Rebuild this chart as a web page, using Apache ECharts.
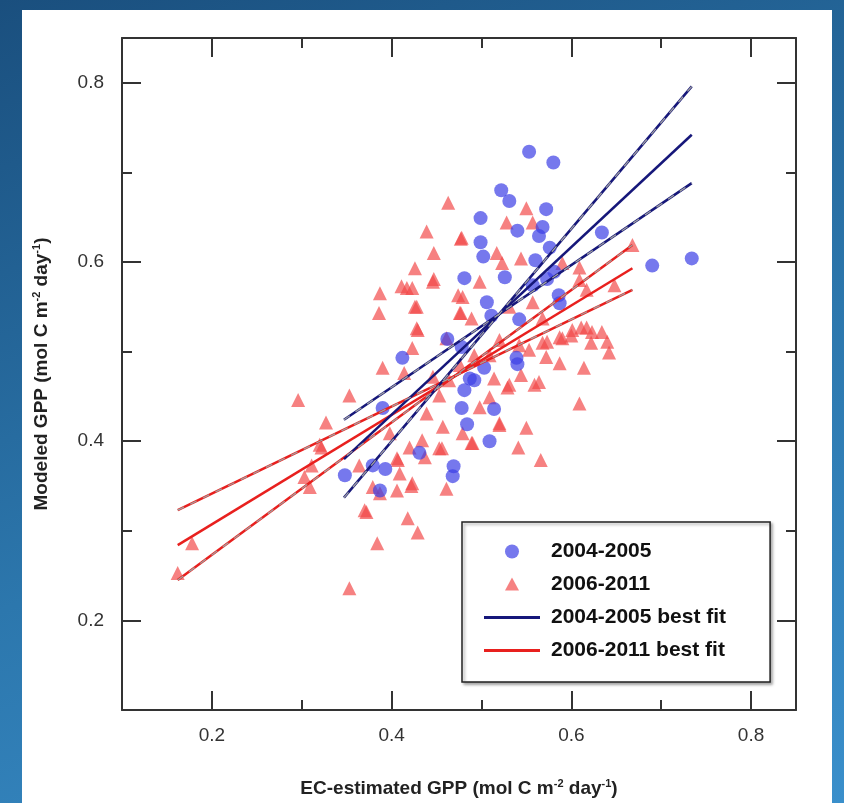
<!DOCTYPE html>
<html>
<head>
<meta charset="utf-8">
<script src="https://cdn.jsdelivr.net/npm/echarts@6/dist/echarts.min.js"></script>
<style>
  html, body { margin: 0; padding: 0; }
  body { width: 844px; height: 803px; background: linear-gradient(160deg, #1a4f7e 0%, #2c77ad 55%, #3a8fcb 100%); }
  #panel { position: absolute; left: 22px; top: 10px; width: 810px; height: 793px; background: #fff; }
  #chart { position: absolute; left: 0; top: 0; width: 844px; height: 803px; }
</style>
</head>
<body>
<div id="panel"></div>
<div id="chart"></div>
<script>
// 2004-2005 观测点 [EC, modeled]
const blue0405 = [
  [0.553,0.723],[0.580,0.711],[0.522,0.680],[0.531,0.668],[0.572,0.659],[0.499,0.649],
  [0.568,0.639],[0.540,0.635],[0.564,0.629],[0.634,0.633],[0.499,0.622],[0.576,0.616],
  [0.502,0.606],[0.560,0.602],[0.690,0.596],[0.734,0.604],[0.481,0.582],[0.526,0.583],
  [0.581,0.589],[0.573,0.581],[0.557,0.574],[0.506,0.555],[0.586,0.563],[0.587,0.554],
  [0.511,0.540],[0.542,0.536],[0.462,0.514],[0.478,0.505],[0.412,0.493],[0.539,0.493],
  [0.503,0.482],[0.487,0.470],[0.540,0.486],[0.492,0.468],[0.481,0.457],[0.390,0.437],
  [0.478,0.437],[0.514,0.436],[0.484,0.419],[0.431,0.387],[0.509,0.400],[0.379,0.373],
  [0.393,0.369],[0.348,0.362],[0.469,0.372],[0.468,0.361],[0.387,0.345]
];
// 2006-2011 观测点
const red0611 = [
  [0.463,0.666],[0.439,0.634],[0.477,0.626],[0.447,0.610],[0.426,0.593],[0.447,0.581],
  [0.411,0.573],[0.423,0.571],[0.387,0.565],[0.386,0.543],[0.426,0.550],[0.474,0.563],
  [0.477,0.543],[0.428,0.526],[0.550,0.660],[0.528,0.644],[0.557,0.644],[0.478,0.627],
  [0.517,0.610],[0.544,0.604],[0.523,0.599],[0.498,0.578],[0.590,0.599],[0.609,0.594],
  [0.648,0.574],[0.668,0.619],[0.557,0.555],[0.479,0.561],[0.617,0.527],[0.634,0.522],
  [0.609,0.580],[0.617,0.569],[0.611,0.527],[0.623,0.522],[0.642,0.499],[0.573,0.511],
  [0.600,0.518],[0.446,0.578],[0.417,0.571],[0.428,0.550],[0.476,0.543],[0.429,0.524],
  [0.423,0.504],[0.461,0.515],[0.489,0.537],[0.531,0.550],[0.590,0.515],[0.572,0.494],
  [0.587,0.487],[0.568,0.537],[0.601,0.524],[0.514,0.470],[0.531,0.463],[0.559,0.463],
  [0.544,0.474],[0.446,0.472],[0.568,0.510],[0.587,0.516],[0.622,0.510],[0.640,0.511],
  [0.614,0.482],[0.529,0.460],[0.564,0.466],[0.509,0.449],[0.498,0.438],[0.520,0.418],
  [0.550,0.415],[0.609,0.442],[0.490,0.398],[0.541,0.393],[0.566,0.379],[0.390,0.482],
  [0.414,0.476],[0.353,0.451],[0.296,0.446],[0.327,0.421],[0.439,0.431],[0.457,0.416],
  [0.479,0.409],[0.320,0.396],[0.311,0.373],[0.303,0.360],[0.364,0.373],[0.406,0.381],
  [0.434,0.401],[0.453,0.392],[0.489,0.398],[0.423,0.353],[0.406,0.345],[0.409,0.364],
  [0.461,0.347],[0.370,0.323],[0.418,0.314],[0.398,0.409],[0.379,0.349],[0.456,0.392],
  [0.420,0.393],[0.407,0.379],[0.437,0.382],[0.422,0.350],[0.387,0.342],[0.372,0.321],
  [0.429,0.298],[0.384,0.286],[0.353,0.236],[0.322,0.393],[0.309,0.349],[0.178,0.286],
  [0.162,0.253],[0.520,0.420],[0.520,0.513],[0.542,0.507],[0.509,0.496],[0.553,0.502],
  [0.476,0.485],[0.492,0.496],[0.464,0.468],[0.453,0.451]
];
// 拟合线端点
const blueFitX = [0.347, 0.734];
const blueFit = [0.380, 0.742];
const blueUpper = [0.337, 0.796];
const blueLower = [0.424, 0.688];
const redFitX = [0.162, 0.668];
const redFit = [0.284, 0.593];
const redUpper = [0.245, 0.619];
const redLower = [0.323, 0.569];
const majorTicks = [0.2, 0.4, 0.6, 0.8];

function pts(xs, ys) { return xs.map((x, i) => [x, ys[i]]); }

const BLUE = 'rgba(60,62,230,0.88)';
const RED = 'rgba(242,70,70,0.85)';
const NAVY = '#16177a';
const RED_LINE = '#e8201e';
const FONT = 'Liberation Sans';
const AX = '#333';

function lineSeries(name, data, color, band) {
  const out = [{
    name: name, type: 'line', data: data, symbol: 'none', z: 5,
    lineStyle: { color: color, width: 2.5 }, itemStyle: { color: color }
  }];
  if (band) {
    out.push({
      type: 'line', data: data, symbol: 'none', z: 6,
      lineStyle: { color: '#a0a0a0', width: 1.3, type: [7, 7] }
    });
  }
  return out;
}

// 大刻度：0.2 倍数；小刻度：每 0.1
function majorAxis(pos, extra) {
  return Object.assign({
    type: 'value', min: 0.1, max: 0.85, interval: 0.1, position: pos,
    splitLine: { show: false },
    axisLine: { show: true, lineStyle: { color: AX, width: 2 } },
    axisTick: { show: true, inside: true, length: 19, customValues: majorTicks, lineStyle: { color: AX, width: 2 } },
    axisLabel: { show: false }
  }, extra || {});
}
function minorAxis(pos) {
  return {
    type: 'value', min: 0.1, max: 0.85, interval: 0.1, position: pos,
    splitLine: { show: false },
    axisLine: { show: false },
    axisTick: { show: true, inside: true, length: 10, lineStyle: { color: AX, width: 2 } },
    axisLabel: { show: false }
  };
}
const rich = {
  b: { fontSize: 19, fontWeight: 'bold', color: '#222', fontFamily: FONT },
  s: { fontSize: 11, fontWeight: 'bold', color: '#222', verticalAlign: 'top', padding: [0, 0, 10, 0], fontFamily: FONT }
};
const labelStyle = { show: true, fontSize: 19, color: '#333', customValues: majorTicks, formatter: v => v.toFixed(1) };

const chart = echarts.init(document.getElementById('chart'));
chart.setOption({
  animation: false,
  textStyle: { fontFamily: FONT },
  grid: { left: 122, right: 48, top: 38, bottom: 91 },
  xAxis: [
    majorAxis('bottom', {
      name: '{b|EC-estimated GPP (mol C m}{s|-2}{b| day}{s|-1}{b|)}',
      nameLocation: 'middle', nameGap: 68, nameTextStyle: { rich: rich },
      axisLabel: Object.assign({ margin: 16 }, labelStyle)
    }),
    majorAxis('top'),
    minorAxis('bottom'),
    minorAxis('top')
  ],
  yAxis: [
    majorAxis('left', {
      name: '{b|Modeled GPP (mol C m}{s|-2}{b| day}{s|-1}{b|)}',
      nameLocation: 'middle', nameGap: 70, nameRotate: 90, nameTextStyle: { rich: rich },
      axisLabel: Object.assign({ margin: 18 }, labelStyle)
    }),
    majorAxis('right'),
    minorAxis('left'),
    minorAxis('right')
  ],
  legend: {
    orient: 'vertical', left: 462, top: 522,
    padding: [19, 44, 21, 22], itemGap: 12, itemWidth: 56, itemHeight: 14,
    borderColor: '#222', borderWidth: 1.5, backgroundColor: '#fff',
    shadowColor: 'rgba(0,0,0,0.35)', shadowOffsetX: 2, shadowOffsetY: 2, shadowBlur: 3,
    textStyle: { fontSize: 21, fontWeight: 'bold', color: '#111', fontFamily: FONT, padding: [0, 0, 0, 6] },
    data: [
      { name: '2004-2005', icon: 'path://M0,0 M28,0 A7,7 0 1,1 27.99,0 Z M56,14' },
      { name: '2006-2011', icon: 'path://M0,0 M28,0 L35,13 L21,13 Z M56,14' },
      { name: '2004-2005 best fit', icon: 'path://M0,0 M0,5.5 L56,5.5 L56,8.5 L0,8.5 Z M56,14' },
      { name: '2006-2011 best fit', icon: 'path://M0,0 M0,5.5 L56,5.5 L56,8.5 L0,8.5 Z M56,14' }
    ]
  },
  series: [
    { name: '2006-2011', type: 'scatter', data: red0611, symbol: 'triangle', symbolSize: 14,
      itemStyle: { color: RED }, z: 2 },
    { name: '2004-2005', type: 'scatter', data: blue0405, symbol: 'circle', symbolSize: 14,
      itemStyle: { color: BLUE }, z: 3 }
  ]
  .concat(lineSeries('', pts(redFitX, redUpper), RED_LINE, true))
  .concat(lineSeries('', pts(redFitX, redLower), RED_LINE, true))
  .concat(lineSeries('2006-2011 best fit', pts(redFitX, redFit), RED_LINE, false))
  .concat(lineSeries('', pts(blueFitX, blueUpper), NAVY, true))
  .concat(lineSeries('', pts(blueFitX, blueLower), NAVY, true))
  .concat(lineSeries('2004-2005 best fit', pts(blueFitX, blueFit), NAVY, false))
});
</script>
</body>
</html>
